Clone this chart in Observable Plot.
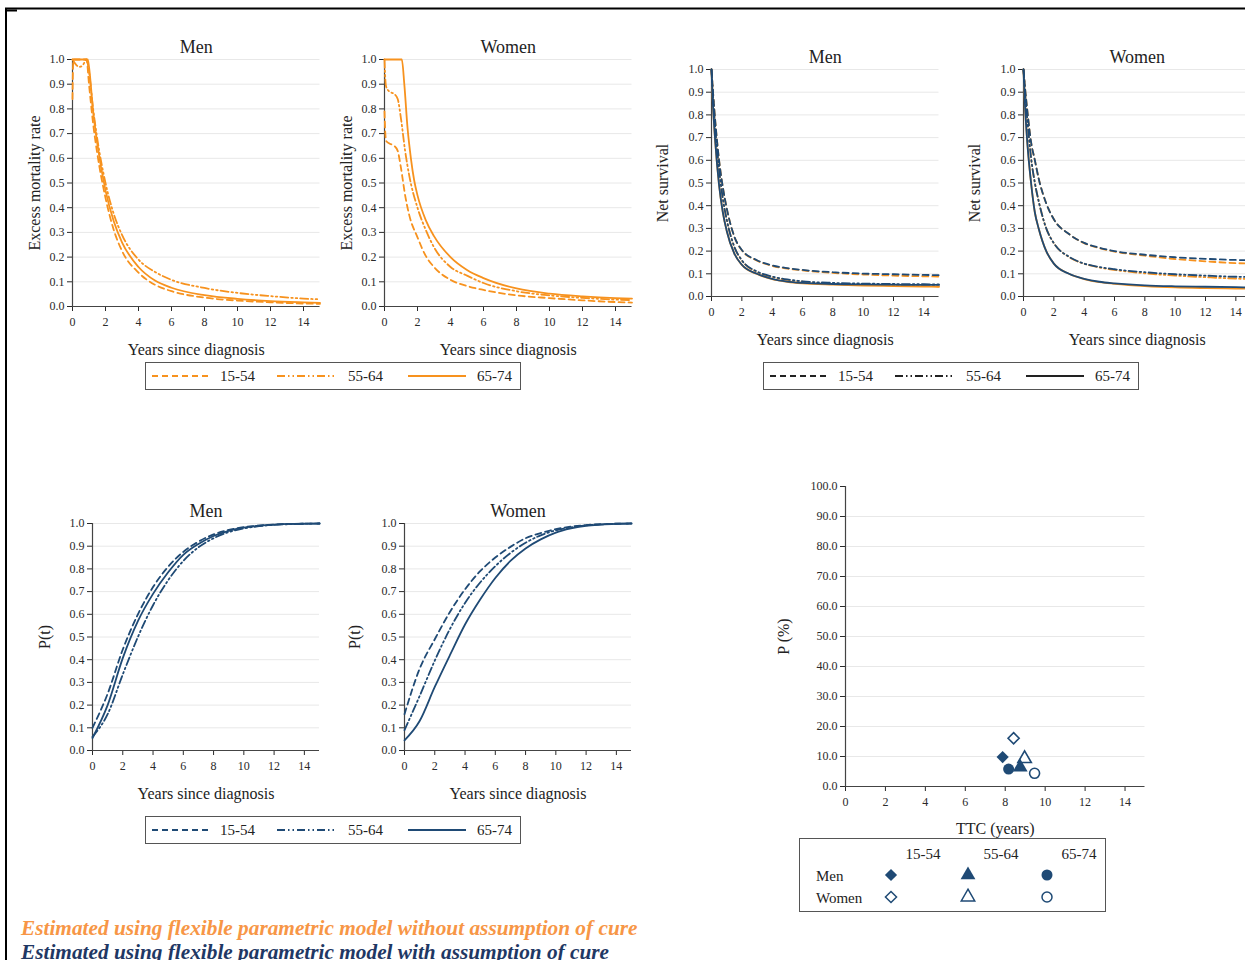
<!DOCTYPE html>
<html><head><meta charset="utf-8">
<script src="https://cdn.jsdelivr.net/npm/d3@7"></script>
<script src="https://cdn.jsdelivr.net/npm/@observablehq/plot@0.6"></script>
<style>
html,body{margin:0;padding:0;background:#fff;}
#root{position:relative;width:1245px;height:960px;overflow:hidden;background:#fff;font-family:"Liberation Serif","Times New Roman",serif;color:#222;}
.foot{position:absolute;left:21px;font-family:"Liberation Serif",serif;font-weight:bold;font-style:italic;font-size:21.3px;white-space:nowrap;line-height:22px;}
</style></head>
<body><div id="root"></div>
<script>
// ---------------- DATA ----------------
const ageGroups = ["15-54", "55-64", "65-74"];
const xTicks = [0, 2, 4, 6, 8, 10, 12, 14];
const yTicksUnit = [0, 0.1, 0.2, 0.3, 0.4, 0.5, 0.6, 0.7, 0.8, 0.9, 1.0];
const yTicksPct = [0, 10, 20, 30, 40, 50, 60, 70, 80, 90, 100];
const gridPct = [10, 20, 30, 40, 50, 60, 70, 80, 90];

// Excess mortality rate (without cure) - Men
const tEmrMen1554 = [0, 0.05, 0.85, 1.0, 1.25, 1.5, 2, 2.5, 3, 4, 5, 6, 8, 10, 12, 14, 15];
const emrMen1554  = [0.84, 1.0, 1.0, 0.9, 0.74, 0.62, 0.44, 0.31, 0.225, 0.137, 0.088, 0.062, 0.036, 0.024, 0.017, 0.012, 0.011];
const tEmrMen5564 = [0, 0.2, 0.4, 0.6, 0.85, 1.0, 1.25, 1.5, 2, 2.5, 3, 4, 5, 6, 8, 10, 12, 14, 15];
const emrMen5564  = [1.0, 0.98, 0.97, 0.975, 1.0, 0.95, 0.8, 0.68, 0.5, 0.375, 0.29, 0.19, 0.14, 0.108, 0.075, 0.055, 0.042, 0.032, 0.029];
const tEmrMen6574 = [0, 0.92, 1.0, 1.25, 1.5, 2, 2.5, 3, 4, 5, 6, 8, 10, 12, 14, 15];
const emrMen6574  = [1.0, 1.0, 0.97, 0.79, 0.66, 0.47, 0.345, 0.26, 0.16, 0.105, 0.076, 0.046, 0.031, 0.022, 0.017, 0.015];

// Excess mortality rate (without cure) - Women
const tEmrWom1554 = [0, 0.05, 0.1, 0.3, 0.6, 0.8, 1.0, 1.25, 1.5, 2, 2.5, 3, 4, 5, 6, 8, 10, 12, 14, 15];
const emrWom1554  = [0.79, 0.7, 0.67, 0.66, 0.65, 0.63, 0.56, 0.45, 0.37, 0.28, 0.205, 0.16, 0.108, 0.083, 0.067, 0.045, 0.034, 0.025, 0.018, 0.016];
const tEmrWom5564 = [0, 0.05, 0.1, 0.3, 0.6, 0.8, 1.0, 1.25, 1.5, 2, 2.5, 3, 4, 5, 6, 8, 10, 12, 14, 15];
const emrWom5564  = [1.0, 0.92, 0.89, 0.87, 0.86, 0.84, 0.76, 0.63, 0.53, 0.4, 0.31, 0.24, 0.16, 0.125, 0.095, 0.062, 0.045, 0.035, 0.028, 0.026];
const tEmrWom6574 = [0, 1.05, 1.2, 1.4, 1.6, 1.8, 2, 2.5, 3, 4, 5, 6, 8, 10, 12, 14, 15];
const emrWom6574  = [1.0, 1.0, 0.9, 0.72, 0.6, 0.51, 0.45, 0.35, 0.285, 0.2, 0.148, 0.115, 0.073, 0.052, 0.041, 0.034, 0.032];

// Net survival
const tNS = [0, 0.1, 0.25, 0.5, 0.75, 1, 1.5, 2, 3, 4, 5, 6, 8, 10, 12, 14, 15];
const nsMen1554Cure   = [1.0, 0.9, 0.77, 0.6, 0.48, 0.39, 0.265, 0.205, 0.16, 0.137, 0.125, 0.117, 0.107, 0.101, 0.098, 0.095, 0.094];
const nsMen5564Cure   = [1.0, 0.88, 0.74, 0.56, 0.43, 0.34, 0.22, 0.16, 0.11, 0.088, 0.075, 0.067, 0.06, 0.057, 0.055, 0.054, 0.053];
const nsMen6574Cure   = [1.0, 0.84, 0.68, 0.49, 0.37, 0.29, 0.19, 0.14, 0.1, 0.078, 0.066, 0.06, 0.055, 0.053, 0.052, 0.051, 0.051];
const nsMen1554NoCure = [1.0, 0.9, 0.77, 0.6, 0.48, 0.39, 0.265, 0.204, 0.158, 0.135, 0.123, 0.115, 0.104, 0.097, 0.092, 0.089, 0.088];
const nsMen5564NoCure = [1.0, 0.88, 0.74, 0.56, 0.43, 0.34, 0.22, 0.159, 0.108, 0.086, 0.073, 0.065, 0.057, 0.052, 0.049, 0.046, 0.045];
const nsMen6574NoCure = [1.0, 0.84, 0.68, 0.49, 0.37, 0.29, 0.19, 0.139, 0.099, 0.077, 0.065, 0.058, 0.052, 0.048, 0.046, 0.044, 0.043];
const nsWom1554Cure   = [1.0, 0.92, 0.82, 0.68, 0.6, 0.52, 0.41, 0.34, 0.275, 0.236, 0.215, 0.2, 0.184, 0.173, 0.166, 0.161, 0.16];
const nsWom5564Cure   = [1.0, 0.9, 0.78, 0.61, 0.5, 0.42, 0.3, 0.235, 0.175, 0.145, 0.13, 0.12, 0.107, 0.098, 0.092, 0.087, 0.086];
const nsWom6574Cure   = [1.0, 0.84, 0.68, 0.5, 0.37, 0.3, 0.2, 0.145, 0.1, 0.078, 0.065, 0.058, 0.049, 0.045, 0.043, 0.041, 0.04];
const nsWom1554NoCure = [1.0, 0.92, 0.82, 0.68, 0.6, 0.52, 0.41, 0.34, 0.275, 0.235, 0.213, 0.198, 0.18, 0.165, 0.155, 0.147, 0.145];
const nsWom5564NoCure = [1.0, 0.9, 0.78, 0.61, 0.5, 0.42, 0.3, 0.235, 0.174, 0.144, 0.128, 0.117, 0.102, 0.092, 0.085, 0.079, 0.077];
const nsWom6574NoCure = [1.0, 0.84, 0.68, 0.5, 0.37, 0.3, 0.2, 0.145, 0.1, 0.077, 0.063, 0.056, 0.046, 0.04, 0.037, 0.035, 0.034];

// Proportion cured P(t)
const tP = [0, 1, 2, 3, 4, 5, 6, 7, 8, 9, 10, 11, 12, 13, 14, 15];
const pMen1554 = [0.1, 0.25, 0.445, 0.6, 0.72, 0.81, 0.875, 0.92, 0.952, 0.972, 0.984, 0.991, 0.995, 0.998, 0.999, 1.0];
const pMen5564 = [0.06, 0.16, 0.335, 0.5, 0.64, 0.75, 0.835, 0.895, 0.935, 0.962, 0.978, 0.988, 0.994, 0.997, 0.999, 1.0];
const pMen6574 = [0.055, 0.2, 0.407, 0.57, 0.69, 0.785, 0.862, 0.91, 0.945, 0.968, 0.982, 0.99, 0.995, 0.998, 0.999, 1.0];
const pWom1554 = [0.16, 0.36, 0.49, 0.61, 0.71, 0.79, 0.85, 0.897, 0.935, 0.958, 0.975, 0.986, 0.993, 0.997, 0.999, 1.0];
const pWom5564 = [0.09, 0.24, 0.396, 0.535, 0.65, 0.74, 0.812, 0.87, 0.915, 0.948, 0.97, 0.983, 0.992, 0.996, 0.999, 1.0];
const pWom6574 = [0.045, 0.13, 0.28, 0.42, 0.555, 0.665, 0.76, 0.835, 0.89, 0.93, 0.96, 0.978, 0.99, 0.995, 0.998, 1.0];

// Time to cure (TTC) and P(%)
const ttcSex   = ["Men", "Men", "Men", "Women", "Women", "Women"];
const ttcAge   = ["15-54", "55-64", "65-74", "15-54", "55-64", "65-74"];
const ttcYears = [7.87, 8.75, 8.17, 8.42, 8.97, 9.47];
const ttcPct   = [9.8, 6.4, 5.8, 16.1, 9.3, 4.4];

// ---------------- STYLE ----------------
const ORANGE = "#f7921e";
const BLUE = "#1f4a75";
const DARK = "#222";
const dashByAge = {"15-54": "6,4", "55-64": "8,3,1.5,3,1.5,3", "65-74": null};
const symbolByAge = {"15-54": "diamond2", "55-64": "triangle", "65-74": "circle"};
const FONT = '"Liberation Serif", "Times New Roman", serif';

const root = document.getElementById("root");
function pts(t, v) { return t.map((d, i) => ({t: d, v: v[i]})); }
function place(node, left, top) {
  node.style.position = "absolute"; node.style.left = left + "px"; node.style.top = top + "px";
  root.appendChild(node);
}

function linePanel(o) {
  const lineMarks = o.series.map(s => Plot.line(pts(s.t, s.v), {
    x: "t", y: "v", curve: "monotone-x", stroke: s.color, strokeWidth: 1.8,
    strokeDasharray: dashByAge[s.age] || undefined
  }));
  const p = Plot.plot({
    width: o.width, height: o.height,
    marginLeft: o.mL, marginRight: o.mR, marginTop: o.mT, marginBottom: o.mB,
    x: {domain: [0, 15]},
    y: {domain: o.yDomain},
    style: {fontFamily: FONT, fontSize: "12px", color: "#2a2a2a", background: "transparent", overflow: "visible"},
    marks: [
      Plot.gridY(o.grid, {stroke: "#e8e8e8", strokeOpacity: 1}),
      Plot.axisX({ticks: xTicks, tickSize: 5, tickPadding: 6, label: null, tickFormat: d => d}),
      Plot.axisY({ticks: o.yTicks, tickSize: 5, tickPadding: 3, label: null, tickFormat: o.fmt}),
      Plot.ruleY([o.yDomain[0]], {stroke: "#444", strokeWidth: 1.2}),
      Plot.ruleX([0], {stroke: "#444", strokeWidth: 1.2}),
      ...lineMarks,
      Plot.text([o.title], {text: d => d, frameAnchor: "top", dy: -12, lineAnchor: "middle", fontSize: 18, fill: "#222"}),
      Plot.text([o.xLabel], {text: d => d, frameAnchor: "bottom", dy: o.xDy, lineAnchor: "middle", fontSize: 16, fill: "#222"}),
      Plot.text([o.yLabel], {text: d => d, frameAnchor: "left", dx: o.yDx, rotate: -90, textAnchor: "middle", lineAnchor: "middle", fontSize: 16, fill: "#222"})
    ]
  });
  place(p, o.left, o.top);
}

function lineLegend(left, top, color) {
  const w = 376, h = 28;
  const svg = d3.create("svg").attr("width", w).attr("height", h).style("font-family", FONT);
  svg.append("rect").attr("x", 0.5).attr("y", 0.5).attr("width", w - 1).attr("height", h - 1).attr("fill", "#fff").attr("stroke", "#555");
  const xs = [[7, 75], [132, 203], [263, 332]];
  ageGroups.forEach((a, i) => {
    svg.append("line").attr("x1", xs[i][0]).attr("x2", xs[i][0] + 58).attr("y1", 14).attr("y2", 14)
      .attr("stroke", color).attr("stroke-width", 2).attr("stroke-dasharray", dashByAge[a] || null);
    svg.append("text").attr("x", xs[i][1]).attr("y", 14).attr("dy", "0.35em").attr("font-size", 15).attr("fill", "#222").text(a);
  });
  place(svg.node(), left, top);
}

// ---- Panel A: excess mortality ----
const commonA = {width: 330, height: 365, mL: 72, mR: 10.5, mT: 59, mB: 59, yDomain: [0, 1], yTicks: yTicksUnit, grid: yTicksUnit,
  fmt: d3.format(".1f"), xLabel: "Years since diagnosis", yLabel: "Excess mortality rate", xDy: 43, yDx: -38};
linePanel({...commonA, left: 0, top: 0, title: "Men", series: [
  {t: tEmrMen1554, v: emrMen1554, age: "15-54", color: ORANGE},
  {t: tEmrMen5564, v: emrMen5564, age: "55-64", color: ORANGE},
  {t: tEmrMen6574, v: emrMen6574, age: "65-74", color: ORANGE}]});
linePanel({...commonA, left: 312, top: 0, title: "Women", series: [
  {t: tEmrWom1554, v: emrWom1554, age: "15-54", color: ORANGE},
  {t: tEmrWom5564, v: emrWom5564, age: "55-64", color: ORANGE},
  {t: tEmrWom6574, v: emrWom6574, age: "65-74", color: ORANGE}]});
lineLegend(145, 362, ORANGE);

// ---- Panel B: net survival ----
const commonB = {width: 309, height: 365, mL: 71, mR: 10.5, mT: 69, mB: 69, yDomain: [0, 1], yTicks: yTicksUnit, grid: yTicksUnit,
  fmt: d3.format(".1f"), xLabel: "Years since diagnosis", yLabel: "Net survival", xDy: 43, yDx: -49};
linePanel({...commonB, left: 640, top: 0, title: "Men", series: [
  {t: tNS, v: nsMen1554NoCure, age: "15-54", color: ORANGE},
  {t: tNS, v: nsMen5564NoCure, age: "55-64", color: ORANGE},
  {t: tNS, v: nsMen6574NoCure, age: "65-74", color: ORANGE},
  {t: tNS, v: nsMen1554Cure, age: "15-54", color: BLUE},
  {t: tNS, v: nsMen5564Cure, age: "55-64", color: BLUE},
  {t: tNS, v: nsMen6574Cure, age: "65-74", color: BLUE}]});
linePanel({...commonB, left: 952, top: 0, title: "Women", series: [
  {t: tNS, v: nsWom1554NoCure, age: "15-54", color: ORANGE},
  {t: tNS, v: nsWom5564NoCure, age: "55-64", color: ORANGE},
  {t: tNS, v: nsWom6574NoCure, age: "65-74", color: ORANGE},
  {t: tNS, v: nsWom1554Cure, age: "15-54", color: BLUE},
  {t: tNS, v: nsWom5564Cure, age: "55-64", color: BLUE},
  {t: tNS, v: nsWom6574Cure, age: "65-74", color: BLUE}]});
lineLegend(763, 362, DARK);

// ---- Panel C: P(t) ----
const commonC = {width: 309, height: 340, mL: 72, mR: 10, mT: 63, mB: 50, yDomain: [0, 1], yTicks: yTicksUnit, grid: yTicksUnit,
  fmt: d3.format(".1f"), xLabel: "Years since diagnosis", yLabel: "P(t)", xDy: 43};
linePanel({...commonC, left: 20, top: 460, yDx: -48, title: "Men", series: [
  {t: tP, v: pMen1554, age: "15-54", color: BLUE},
  {t: tP, v: pMen5564, age: "55-64", color: BLUE},
  {t: tP, v: pMen6574, age: "65-74", color: BLUE}]});
linePanel({...commonC, left: 332, top: 460, yDx: -50, title: "Women", series: [
  {t: tP, v: pWom1554, age: "15-54", color: BLUE},
  {t: tP, v: pWom5564, age: "55-64", color: BLUE},
  {t: tP, v: pWom6574, age: "65-74", color: BLUE}]});
lineLegend(145, 816, BLUE);

// ---- Panel D: TTC scatter ----
const ttc = ttcYears.map((d, i) => ({sex: ttcSex[i], age: ttcAge[i], ttc: d, p: ttcPct[i]}));
const pD = Plot.plot({
  width: 400, height: 406, marginLeft: 85, marginRight: 15.5, marginTop: 46, marginBottom: 60,
  x: {domain: [0, 15]}, y: {domain: [0, 100]},
  style: {fontFamily: FONT, fontSize: "12px", color: "#2a2a2a", background: "transparent", overflow: "visible"},
  marks: [
    Plot.gridY(gridPct, {stroke: "#e8e8e8", strokeOpacity: 1}),
    Plot.axisX({ticks: xTicks, tickSize: 5, tickPadding: 6, label: null, tickFormat: d => d}),
    Plot.axisY({ticks: yTicksPct, tickSize: 5, tickPadding: 3, label: null, tickFormat: d3.format(".1f")}),
    Plot.ruleY([0], {stroke: "#444", strokeWidth: 1.2}),
    Plot.ruleX([0], {stroke: "#444", strokeWidth: 1.2}),
    Plot.dot(ttc.filter(d => d.sex === "Women"), {x: "ttc", y: "p", symbol: d => symbolByAge[d.age], r: 5, stroke: BLUE, strokeWidth: 1.6, fill: "#fff"}),
    Plot.dot(ttc.filter(d => d.sex === "Men"), {x: "ttc", y: "p", symbol: d => symbolByAge[d.age], r: 5.5, fill: BLUE, stroke: "none"}),
    Plot.text(["TTC (years)"], {text: d => d, frameAnchor: "bottom", dy: 42, lineAnchor: "middle", fontSize: 16, fill: "#222"}),
    Plot.text(["P (%)"], {text: d => d, frameAnchor: "left", dx: -62, rotate: -90, textAnchor: "middle", lineAnchor: "middle", fontSize: 16, fill: "#222"})
  ]
});
place(pD, 760, 440);

// Legend D
(function() {
  const w = 307, h = 74;
  const svg = d3.create("svg").attr("width", w).attr("height", h).style("font-family", FONT);
  svg.append("rect").attr("x", 0.5).attr("y", 0.5).attr("width", w - 1).attr("height", h - 1).attr("fill", "#fff").attr("stroke", "#555");
  const cx = [92, 169, 248], hx = [124, 202, 280];
  ageGroups.forEach((a, i) => {
    svg.append("text").attr("x", hx[i]).attr("y", 16).attr("dy", "0.35em").attr("text-anchor", "middle").attr("font-size", 15).attr("fill", "#222").text(a);
    const sym = {"diamond2": d3.symbolDiamond2, "triangle": d3.symbolTriangle, "circle": d3.symbolCircle}[symbolByAge[a]];
    svg.append("path").attr("d", d3.symbol(sym, Math.PI * 5.5 * 5.5)()).attr("transform", `translate(${cx[i]},37)`).attr("fill", BLUE);
    svg.append("path").attr("d", d3.symbol(sym, Math.PI * 5 * 5)()).attr("transform", `translate(${cx[i]},59)`).attr("fill", "#fff").attr("stroke", BLUE).attr("stroke-width", 1.5);
  });
  ["Men", "Women"].forEach((s, j) => {
    svg.append("text").attr("x", 17).attr("y", 38 + j * 22).attr("dy", "0.35em").attr("font-size", 15).attr("fill", "#222").text(s);
  });
  place(svg.node(), 799, 838);
})();

// Frame lines
const fr = d3.create("svg").attr("width", 1245).attr("height", 960);
fr.append("line").attr("x1", 5).attr("x2", 1245).attr("y1", 8.5).attr("y2", 8.5).attr("stroke", "#000").attr("stroke-width", 2);
fr.append("line").attr("x1", 6).attr("x2", 6).attr("y1", 8).attr("y2", 960).attr("stroke", "#000").attr("stroke-width", 2);
fr.append("line").attr("x1", 5).attr("x2", 17).attr("y1", 10.5).attr("y2", 10.5).attr("stroke", "#000").attr("stroke-width", 2);
fr.style("pointer-events", "none");
place(fr.node(), 0, 0);

// Footnotes
const f1 = document.createElement("div"); f1.className = "foot"; f1.style.top = "917px"; f1.style.color = "#f79646";
f1.textContent = "Estimated using flexible parametric model without assumption of cure"; root.appendChild(f1);
const f2 = document.createElement("div"); f2.className = "foot"; f2.style.top = "941px"; f2.style.color = "#1f3864";
f2.textContent = "Estimated using flexible parametric model with assumption of cure"; root.appendChild(f2);
</script></body></html>
